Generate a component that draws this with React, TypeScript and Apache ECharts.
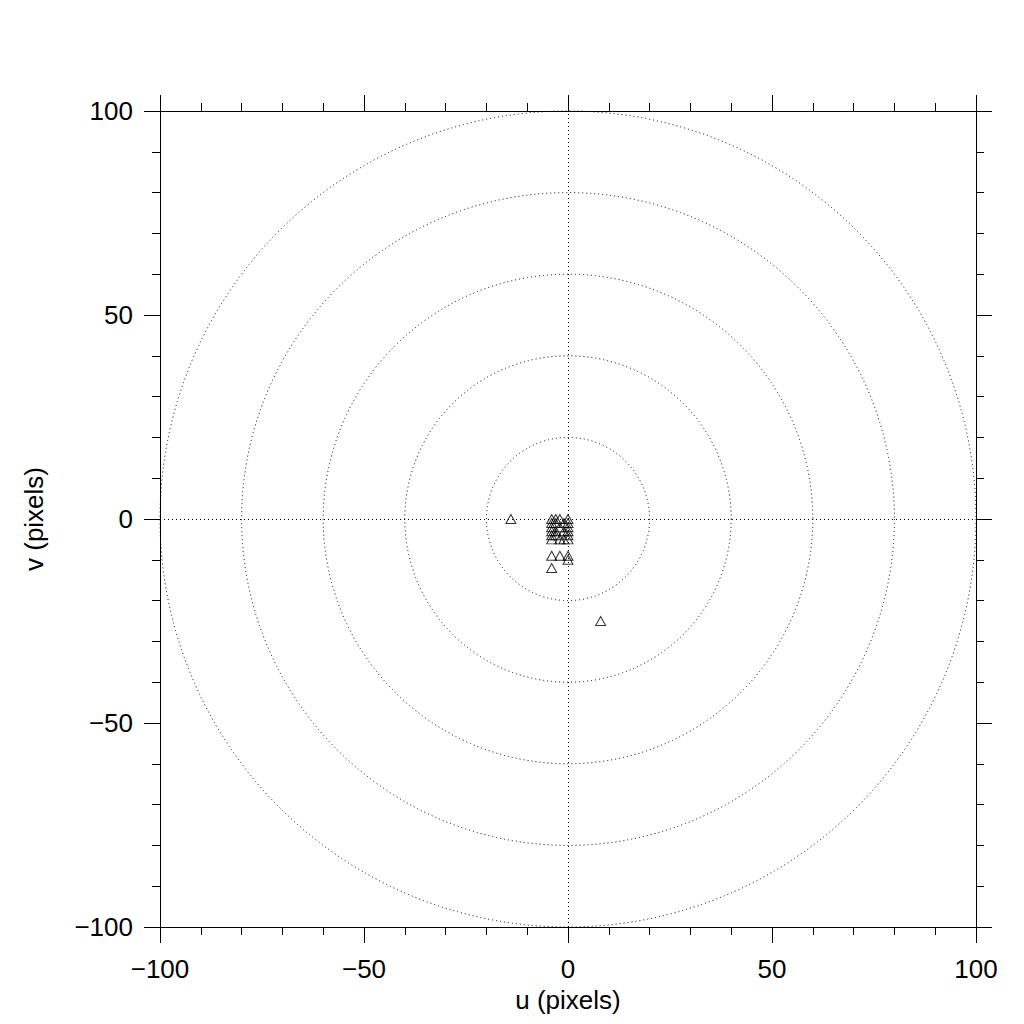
import React, { useEffect, useRef } from "react";
import * as echarts from "echarts";

// Data
const pointsU = [-14, 8, -4, -3, -2, 0, -4, -3, 0, -1, -4, -2, 0, -4, -3, 0, -1, -4, -3, 0, -4, -2, 0, -1, -4, -2, 0, 0, -4];
const pointsV = [0, -25, 0, 0, 0, 0, -1, -1, -1, -1, -2, -2, -2, -3, -3, -3, -3, -4, -4, -4, -5, -5, -5, -5, -9, -9, -9, -10, -12];
const circleRadii = [20, 40, 60, 80, 100];
const axisMin = -100;
const axisMax = 100;
const majorInterval = 50;
const xName = "u (pixels)";
const yName = "v (pixels)";

const FONT = "Liberation Sans";

function fmt(v: number): string {
  return v < 0 ? "\u2212" + Math.abs(v) : String(v);
}

export default function App() {
  const ref = useRef<HTMLDivElement>(null);
  useEffect(() => {
    if (!ref.current) return;
    const chart = echarts.init(ref.current, null, { renderer: "svg" });
    const scatterData = pointsU.map((u, i) => [u, pointsV[i]]);
    const circleData = circleRadii.map((r) => [0, 0, r]);
    const axisCommon = {
      type: "value" as const,
      min: axisMin,
      max: axisMax,
      interval: majorInterval,
      axisLine: { show: true, onZero: false, lineStyle: { color: "#000", width: 1 } },
      axisTick: { show: true, inside: false, length: 16, lineStyle: { color: "#000", width: 1 } },
      minorTick: { show: true, splitNumber: 5, length: 8, lineStyle: { color: "#000", width: 1 } },
      splitLine: { show: false },
      minorSplitLine: { show: false },
    };
    const labelStyle = {
      fontFamily: FONT,
      fontSize: 26,
      color: "#000",
      formatter: (v: number) => fmt(v),
    };
    chart.setOption({
      animation: false,
      backgroundColor: "#fff",
      grid: { left: 160, top: 111, width: 816, height: 816, containLabel: false },
      xAxis: [
        {
          ...axisCommon,
          position: "bottom",
          axisLabel: { ...labelStyle, margin: 29 },
          name: xName,
          nameLocation: "middle",
          nameGap: 58,
          nameTextStyle: { fontFamily: FONT, fontSize: 26, color: "#000" },
        },
        {
          ...axisCommon,
          position: "top",
          axisLabel: { show: false },
        },
      ],
      yAxis: [
        {
          ...axisCommon,
          position: "left",
          axisLabel: { ...labelStyle, margin: 27 },
          name: yName,
          nameLocation: "middle",
          nameGap: 113,
          nameTextStyle: { fontFamily: FONT, fontSize: 26, color: "#000" },
        },
        {
          ...axisCommon,
          position: "right",
          axisLabel: { show: false },
        },
      ],
      series: [
        {
          type: "custom",
          xAxisIndex: 0,
          yAxisIndex: 0,
          silent: true,
          clip: false,
          data: circleData,
          renderItem: (params: any, api: any) => {
            const c = api.coord([api.value(0), api.value(1)]);
            const r = api.size([api.value(2), 0])[0];
            return {
              type: "circle",
              shape: { cx: c[0], cy: c[1], r },
              style: { fill: "none", stroke: "#000", lineWidth: 1, lineDash: [1, 3] },
            };
          },
        },
        {
          type: "scatter",
          xAxisIndex: 0,
          yAxisIndex: 0,
          symbol: "triangle",
          symbolSize: [10, 9],
          itemStyle: { color: "rgba(0,0,0,0)", borderColor: "#000", borderWidth: 1 },
          data: scatterData,
          markLine: {
            silent: true,
            symbol: ["none", "none"],
            label: { show: false },
            lineStyle: { color: "#000", width: 1, type: [1, 3] },
            data: [{ xAxis: 0 }, { yAxis: 0 }],
          },
          z: 5,
        },
      ],
    });
    return () => chart.dispose();
  }, []);
  return (
    <div
      ref={ref}
      style={{ position: "absolute", left: 0, top: 0, width: 1024, height: 1024, background: "#fff" }}
    />
  );
}
